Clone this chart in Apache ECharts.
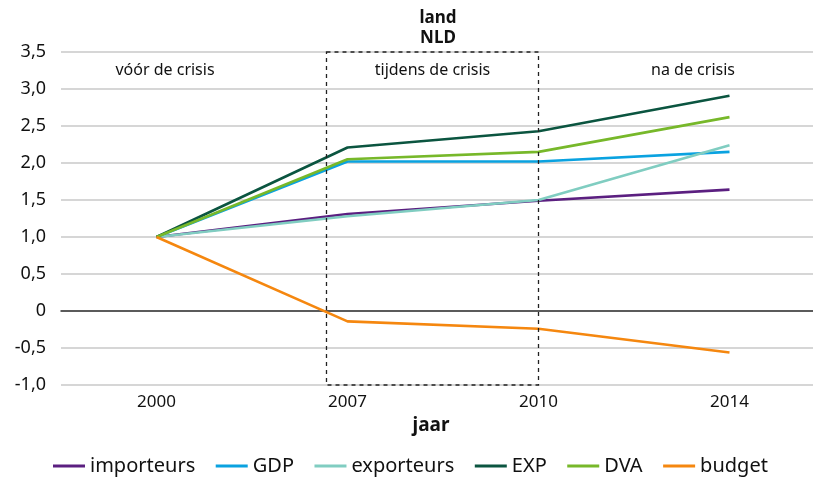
<!DOCTYPE html>
<html>
<head>
<meta charset="utf-8">
<script src="https://cdn.jsdelivr.net/npm/echarts@6/dist/echarts.min.js"></script>
<style>
  html, body { margin: 0; padding: 0; background: #fff; }
  #chart { width: 813px; height: 478px; }
</style>
</head>
<body>
<div id="chart"></div>
<script>
// jaren (categorieen)
var jaren = ['2000', '2007', '2010', '2014'];
// reeksen, 2000 = 1
var importeurs = [1.0, 1.31, 1.49, 1.64];
var gdp = [1.0, 2.02, 2.02, 2.15];
var exporteurs = [1.0, 1.28, 1.50, 2.24];
var exp = [1.0, 2.21, 2.43, 2.91];
var dva = [1.0, 2.05, 2.15, 2.62];
var budget = [1.0, -0.14, -0.24, -0.56];
// periodes
var periodes = ['vóór de crisis', 'tijdens de crisis', 'na de crisis'];

var fontFam = '"Noto Sans", "Open Sans", sans-serif';
var chart = echarts.init(document.getElementById('chart'));

function lijn(naam, data, kleur) {
    return {
        name: naam,
        type: 'line',
        data: data,
        symbol: 'none',
        lineStyle: { width: 2.6, color: kleur },
        itemStyle: { color: kleur }
    };
}

var option = {
    animation: false,
    textStyle: { fontFamily: fontFam },
    title: {
        text: 'land\nNLD',
        left: 433,
        top: 3,
        textAlign: 'center',
        textStyle: { fontSize: 17, fontWeight: 'bold', color: '#111', lineHeight: 20, fontFamily: fontFam }
    },
    grid: { left: 61, right: -12, top: 52, bottom: 93, outerBoundsMode: 'none', containLabel: false },
    legend: {
        top: 456,
        left: 53,
        padding: 0,
        icon: 'rect',
        itemWidth: 32,
        itemHeight: 3,
        itemGap: 20.5,
        textStyle: { fontSize: 20, color: '#111', fontFamily: fontFam },
        data: ['importeurs', 'GDP', 'exporteurs', 'EXP', 'DVA', 'budget']
    },
    xAxis: {
        type: 'category',
        data: jaren,
        name: 'jaar',
        nameLocation: 'middle',
        nameGap: 30,
        nameTextStyle: { fontSize: 19, fontWeight: 'bold', color: '#111', padding: [0, 24, 0, 0] },
        axisTick: { show: false },
        axisLine: { onZero: true, lineStyle: { color: '#333', width: 1.5 } },
        axisLabel: { fontSize: 17, color: '#111', margin: 9 }
    },
    yAxis: {
        type: 'value',
        min: -1,
        max: 3.5,
        interval: 0.5,
        axisLine: { show: false },
        axisTick: { show: false },
        splitLine: { lineStyle: { color: '#c8c8c8', width: 1.5 } },
        axisLabel: {
            fontSize: 18,
            color: '#111',
            margin: 15,
            formatter: function (v) {
                if (v === 0) return '0';
                return v.toFixed(1).replace('.', ',');
            }
        }
    },
    series: [
        lijn('importeurs', importeurs, '#5b1f80'),
        lijn('GDP', gdp, '#0aa2e0'),
        lijn('exporteurs', exporteurs, '#80cdc1'),
        lijn('EXP', exp, '#0b5540'),
        lijn('DVA', dva, '#77b82a'),
        lijn('budget', budget, '#f5870f')
    ]
};
chart.setOption(option);

// stippelkader en periode-teksten
var p2000 = chart.convertToPixel({ xAxisIndex: 0, yAxisIndex: 0 }, [0, 3.5]);
var p2007 = chart.convertToPixel({ xAxisIndex: 0, yAxisIndex: 0 }, [1, -1]);
var p2010 = chart.convertToPixel({ xAxisIndex: 0, yAxisIndex: 0 }, [2, 3.25]);
var p2014 = chart.convertToPixel({ xAxisIndex: 0, yAxisIndex: 0 }, [3, 3.25]);
var links = p2000[0] + (p2007[0] - p2000[0]) * 0.89;
var tekstStijl = { fontSize: 16, fill: '#111', fontFamily: fontFam, align: 'center', verticalAlign: 'middle' };
chart.setOption({
    graphic: [
        {
            type: 'rect',
            shape: { x: links, y: p2000[1], width: p2010[0] - links, height: p2007[1] - p2000[1] },
            style: { fill: 'none', stroke: '#222', lineWidth: 1.3, lineDash: [4, 4] },
            z: 100
        },
        { type: 'text', x: 165, y: p2010[1], style: Object.assign({ text: periodes[0] }, tekstStijl) },
        { type: 'text', x: (links + p2010[0]) / 2, y: p2010[1], style: Object.assign({ text: periodes[1] }, tekstStijl) },
        { type: 'text', x: 693, y: p2014[1], style: Object.assign({ text: periodes[2] }, tekstStijl) }
    ]
});
</script>
</body>
</html>
